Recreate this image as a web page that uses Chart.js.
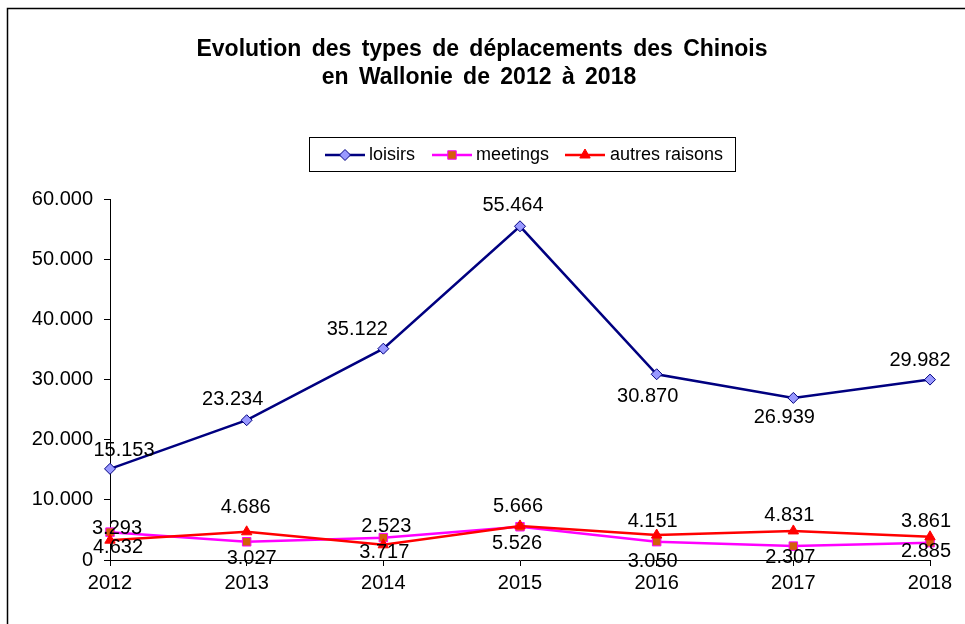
<!DOCTYPE html>
<html>
<head>
<meta charset="utf-8">
<script src="https://cdn.jsdelivr.net/npm/chart.js@4/dist/chart.umd.min.js"></script>
<style>
  html, body { margin: 0; padding: 0; background: #fff; }
  #wrap { position: relative; width: 965px; height: 624px; }
</style>
</head>
<body>
<div id="wrap"><canvas id="c" width="965" height="624"></canvas></div>
<script>
const years = ['2012', '2013', '2014', '2015', '2016', '2017', '2018'];
const loisirs = [15153, 23234, 35122, 55464, 30870, 26939, 29982];
const meetings = [4632, 3027, 3717, 5526, 3050, 2307, 2885];
const autres = [3293, 4686, 2523, 5666, 4151, 4831, 3861];
const seriesNames = ['loisirs', 'meetings', 'autres raisons'];
const titleLines = ['Evolution des types de déplacements des Chinois', 'en Wallonie de 2012 à 2018'];
const yMin = 0, yMax = 60000, yStep = 10000;

const FONT = '"Liberation Sans", Arial, sans-serif';
function fmt(v) { return String(v).replace(/\B(?=(\d{3})+(?!\d))/g, '.'); }

// data-label nudges relative to each point, [dx, dy] in px (style only)
const labelNudge = [
  [[14, -18], [-14, -21], [-26, -19], [-7, -21], [-9, 22], [-9, 20], [-10, -19]],
  [[8, 15], [5, 17], [1, 15], [-3, 17], [-4, 20], [-3, 11], [-4, 9]],
  [[7, -12], [-1, -24], [3, -18], [-2, -19], [-4, -14], [-4, -15], [-4, -15]]
];

const decorPlugin = {
  id: 'decor',
  beforeDraw(chart) {
    const ctx = chart.ctx;
    ctx.save();
    ctx.strokeStyle = '#000';
    ctx.lineWidth = 1.5;
    ctx.beginPath();
    ctx.moveTo(7.5, 624);
    ctx.lineTo(7.5, 8.5);
    ctx.lineTo(965, 8.5);
    ctx.stroke();
    // title
    ctx.fillStyle = '#000';
    ctx.font = 'bold 23px ' + FONT;
    if ('wordSpacing' in ctx) ctx.wordSpacing = '4px';
    ctx.textAlign = 'center';
    ctx.textBaseline = 'middle';
    ctx.fillText(titleLines[0], 482, 50);
    ctx.fillText(titleLines[1], 479, 78);
    ctx.restore();
  },
  afterDatasetsDraw(chart) {
    const ctx = chart.ctx;
    ctx.save();
    ctx.fillStyle = '#000';
    ctx.font = '20px ' + FONT;
    ctx.textAlign = 'center';
    ctx.textBaseline = 'middle';
    chart.data.datasets.forEach((ds, i) => {
      const meta = chart.getDatasetMeta(i);
      meta.data.forEach((el, j) => {
        const n = labelNudge[i][j];
        ctx.fillText(fmt(ds.data[j]), el.x + n[0], el.y + n[1]);
      });
    });
    ctx.restore();
  },
  afterDraw(chart) {
    const ctx = chart.ctx;
    ctx.save();
    // legend box
    ctx.strokeStyle = '#000';
    ctx.lineWidth = 1;
    ctx.strokeRect(309.5, 137.5, 426, 34);
    const items = [
      { x0: 325, x1: 365, tx: 369 },
      { x0: 432, x1: 472, tx: 476 },
      { x0: 565, x1: 605, tx: 610 }
    ];
    const y = 155;
    chart.data.datasets.forEach((ds, i) => {
      const it = items[i];
      ctx.strokeStyle = ds.borderColor;
      ctx.lineWidth = ds.borderWidth;
      ctx.beginPath();
      ctx.moveTo(it.x0, y);
      ctx.lineTo(it.x1, y);
      ctx.stroke();
      ctx.save();
      ctx.fillStyle = ds.pointBackgroundColor;
      ctx.strokeStyle = ds.pointBorderColor;
      ctx.lineWidth = ds.pointBorderWidth;
      Chart.helpers.drawPoint(ctx, {
        pointStyle: ds.pointStyle,
        radius: ds.pointRadius,
        borderWidth: ds.pointBorderWidth,
        rotation: 0
      }, (it.x0 + it.x1) / 2, y);
      ctx.restore();
      ctx.fillStyle = '#000';
      ctx.font = '18px ' + FONT;
      ctx.textAlign = 'left';
      ctx.textBaseline = 'middle';
      ctx.fillText(seriesNames[i], it.tx, y);
    });
    ctx.restore();
  }
};

new Chart(document.getElementById('c'), {
  type: 'line',
  data: {
    labels: years,
    datasets: [
      {
        label: seriesNames[0], data: loisirs,
        borderColor: '#000080', borderWidth: 2.5,
        pointStyle: 'rectRot', pointRadius: 5.5,
        pointBackgroundColor: '#9999FF', pointBorderColor: '#000080', pointBorderWidth: 1,
        tension: 0, order: 2
      },
      {
        label: seriesNames[1], data: meetings,
        borderColor: '#FF00FF', borderWidth: 2.5,
        pointStyle: 'rect', pointRadius: 6,
        pointBackgroundColor: '#D35F0C', pointBorderColor: '#FF00FF', pointBorderWidth: 1,
        tension: 0, order: 1
      },
      {
        label: seriesNames[2], data: autres,
        borderColor: '#FF0000', borderWidth: 2.5,
        pointStyle: 'triangle', pointRadius: 6,
        pointBackgroundColor: '#FF0000', pointBorderColor: '#FF0000', pointBorderWidth: 1,
        tension: 0, order: 0
      }
    ]
  },
  options: {
    responsive: false,
    animation: false,
    devicePixelRatio: 1,
    layout: { padding: { top: 199, right: 35, bottom: 0, left: 0 } },
    plugins: {
      legend: { display: false },
      title: { display: false },
      tooltip: { enabled: false }
    },
    scales: {
      x: {
        offset: false,
        afterFit(s) { s.height = 64; },
        grid: { display: true, drawOnChartArea: false, tickLength: 6, color: '#000', lineWidth: 1 },
        border: { display: true, color: '#000', width: 1 },
        ticks: { color: '#000', font: { family: FONT, size: 20 }, padding: 5, maxRotation: 0 }
      },
      y: {
        min: yMin, max: yMax,
        afterFit(s) { s.width = 110; },
        grid: { display: true, drawOnChartArea: false, tickLength: 6, color: '#000', lineWidth: 1 },
        border: { display: true, color: '#000', width: 1 },
        ticks: { stepSize: yStep, color: '#000', font: { family: FONT, size: 20 }, padding: 11, callback: v => fmt(v) }
      }
    }
  },
  plugins: [decorPlugin]
});
</script>
</body>
</html>
